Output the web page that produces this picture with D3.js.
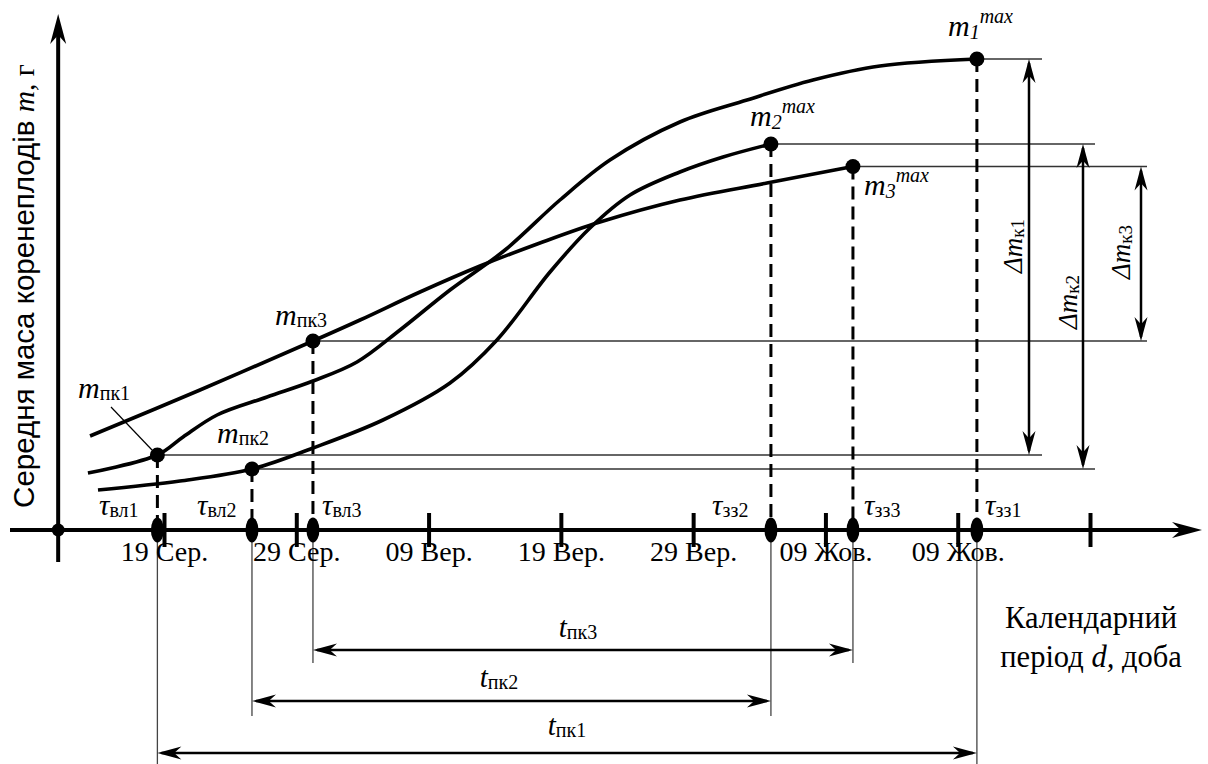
<!DOCTYPE html>
<html>
<head>
<meta charset="utf-8">
<script src="https://cdn.jsdelivr.net/npm/d3@7"></script>
<style>
  html, body { margin: 0; padding: 0; background: #fff; }
  svg { display: block; }
  text { font-family: "Liberation Serif", "Times New Roman", serif; fill: #000; }
</style>
</head>
<body>
<svg id="chart" width="1208" height="764"></svg>
<script>
// Calendar days are counted from 19 Сер.; root mass is in relative units.
const tickDays = [0, 10, 20, 30, 40, 50, 60, 70];
const tickLabels = ["19 Сер.", "29 Сер.", "09 Вер.", "19 Вер.", "29 Вер.", "09 Жов.", "09 Жов.", ""];

// Start of the harvesting period (τвл) and mass at that moment, m_пк
const startDays = [-0.5, 6.65, 11.26];
const startMass = [15.0, 12.2, 37.8];
// End of growth (τзз) and maximal mass, m_max
const endDays = [61.45, 45.88, 52.08];
const endMass = [94.2, 77.2, 72.7];

// Growth curves for the three sowing variants (key points added below)
const curve1Days = [-5.75, 1.44, 4.01, 7.79, 11.26, 14.59, 17.84, 21.62, 25.78, 29.93, 33.71, 39.0, 44.07, 49.06, 54.12];
const curve1Mass = [11.4, 18.6, 23.0, 26.6, 29.8, 33.6, 40.0, 48.0, 56.0, 66.0, 74.0, 81.6, 86.0, 90.0, 92.8];
const curve2Days = [-4.99, 1.21, 11.26, 16.55, 21.62, 25.17, 29.18, 32.20, 35.23, 39.0, 42.26];
const curve2Mass = [8.0, 9.8, 16.4, 22.0, 29.4, 38.0, 51.6, 60.4, 67.0, 71.6, 74.6];
const curve3Days = [-5.59, 2.72, 14.82, 19.35, 23.89, 28.42, 32.96, 39.0, 45.58];
const curve3Mass = [18.8, 28.0, 42.0, 47.6, 52.8, 57.4, 61.6, 66.0, 69.4];

const startLabels = ["вл1", "вл2", "вл3"];
const endLabels = ["зз1", "зз2", "зз3"];
const variantIds = ["1", "2", "3"];

const svg = d3.select("#chart");
const x = d3.scaleLinear().domain([0, 70]).range([164, 1090]);
const y = d3.scaleLinear().domain([0, 100]).range([530, 30]);
const X0 = x(-8), Y0 = y(0);

// Arrowhead with a notched back, tip at (px,py), pointing along angle (deg)
function arrowHead(g, px, py, angle, L = 24, W = 7) {
  g.append("path")
    .attr("d", `M0,0 L${-L},${-W} L${-L * 0.7},0 L${-L},${W} Z`)
    .attr("transform", `translate(${px},${py}) rotate(${angle})`)
    .attr("fill", "#000");
}

const curves = [
  [curve1Days, curve1Mass],
  [curve2Days, curve2Mass],
  [curve3Days, curve3Mass]
].map(([ds, ms], i) => {
  const pts = ds.map((d, k) => ({ d, m: ms[k] }));
  pts.push({ d: startDays[i], m: startMass[i] });
  pts.push({ d: endDays[i], m: endMass[i] });
  return pts.sort((a, b) => a.d - b.d);
});

const guide = svg.append("g");
const lineEnds = [1042, 1095, 1147];
const deltaX = [1029, 1083, 1141];

// Thin horizontal reference lines from m_пк and m_max
for (let i = 0; i < 3; i++) {
  [[startDays[i], startMass[i]], [endDays[i], endMass[i]]].forEach(([d, m]) => {
    guide.append("line")
      .attr("x1", x(d)).attr("x2", lineEnds[i])
      .attr("y1", y(m)).attr("y2", y(m))
      .attr("stroke", "#333").attr("stroke-width", 1.5);
  });
}

// Dashed drops to the calendar axis and thin extension lines below it
const extBottom = [764, 716, 663];
for (let i = 0; i < 3; i++) {
  [[startDays[i], startMass[i]], [endDays[i], endMass[i]]].forEach(([d, m]) => {
    guide.append("line")
      .attr("x1", x(d)).attr("x2", x(d))
      .attr("y1", y(m)).attr("y2", Y0)
      .attr("stroke", "#000").attr("stroke-width", 3)
      .attr("stroke-dasharray", "13,7");
    guide.append("line")
      .attr("x1", x(d)).attr("x2", x(d))
      .attr("y1", Y0).attr("y2", extBottom[i])
      .attr("stroke", "#444").attr("stroke-width", 1.3);
  });
}

// Growth curves
const line = d3.line().x(p => x(p.d)).y(p => y(p.m)).curve(d3.curveCatmullRom.alpha(0.5));
svg.append("g").selectAll("path").data(curves).join("path")
  .attr("d", line)
  .attr("fill", "none").attr("stroke", "#000").attr("stroke-width", 3.6);

// Calendar axis
const axisG = svg.append("g").attr("transform", `translate(0,${Y0})`);
axisG.call(d3.axisBottom(x).tickValues(tickDays).tickFormat((d, i) => tickLabels[i]));
axisG.select(".domain").remove();
axisG.selectAll(".tick line").attr("y1", -17).attr("y2", 17).attr("stroke", "#000").attr("stroke-width", 4);
axisG.selectAll(".tick text")
  .attr("y", 31).attr("dy", 0)
  .attr("font-family", "Liberation Serif, serif").attr("font-size", 28).attr("fill", "#000");

const axes = svg.append("g");
axes.append("line").attr("x1", 10).attr("x2", 1190).attr("y1", Y0).attr("y2", Y0)
  .attr("stroke", "#000").attr("stroke-width", 4);
arrowHead(axes, 1202, Y0, 0, 30, 8);
axes.append("line").attr("x1", X0).attr("x2", X0).attr("y1", 562).attr("y2", 26)
  .attr("stroke", "#000").attr("stroke-width", 4);
arrowHead(axes, X0, 14, -90, 30, 8);
axes.append("circle").attr("cx", X0).attr("cy", Y0).attr("r", 6.5).attr("fill", "#000");

// Markers on the axis and on the curves
for (let i = 0; i < 3; i++) {
  [startDays[i], endDays[i]].forEach(d => {
    axes.append("ellipse").attr("cx", x(d)).attr("cy", Y0).attr("rx", 6.5).attr("ry", 12.5).attr("fill", "#000");
  });
  axes.append("circle").attr("cx", x(startDays[i])).attr("cy", y(startMass[i])).attr("r", 7.5).attr("fill", "#000");
  axes.append("circle").attr("cx", x(endDays[i])).attr("cy", y(endMass[i])).attr("r", 7.5).attr("fill", "#000");
}

// Δm_к dimension arrows
for (let i = 0; i < 3; i++) {
  const yt = y(endMass[i]), yb = y(startMass[i]);
  axes.append("line").attr("x1", deltaX[i]).attr("x2", deltaX[i]).attr("y1", yt + 4).attr("y2", yb - 4)
    .attr("stroke", "#000").attr("stroke-width", 2.5);
  arrowHead(axes, deltaX[i], yt, -90, 24, 6.5);
  arrowHead(axes, deltaX[i], yb, 90, 24, 6.5);
}

// t_пк period arrows
const tY = [753, 701, 650];
for (let i = 0; i < 3; i++) {
  const xa = x(startDays[i]), xb = x(endDays[i]);
  axes.append("line").attr("x1", xa + 4).attr("x2", xb - 4).attr("y1", tY[i]).attr("y2", tY[i])
    .attr("stroke", "#000").attr("stroke-width", 2.5);
  arrowHead(axes, xa, tY[i], 180, 24, 6.5);
  arrowHead(axes, xb, tY[i], 0, 24, 6.5);
}

const labels = svg.append("g");

// Label made of a main italic symbol, a subscript and an optional superscript
function symLabel(px, py, main, sub, sup, opts = {}) {
  const t = labels.append("text").attr("x", px).attr("y", py)
    .attr("text-anchor", opts.anchor || "start");
  if (opts.rotate) t.attr("transform", `rotate(${opts.rotate},${px},${py})`);
  t.append("tspan").attr("font-style", "italic").attr("font-size", opts.size || 30).text(main);
  if (sub) t.append("tspan").attr("font-size", opts.subSize || 20)
    .attr("font-style", opts.subItalic ? "italic" : "normal")
    .attr("dy", opts.subDy != null ? opts.subDy : 3).text(sub);
  if (sup) t.append("tspan").attr("font-size", 20).attr("font-style", "italic")
    .attr("dy", opts.supDy).text(sup);
  return t;
}

// m_пк labels
const mpkPos = [[78, 398], [217, 443], [275, 325]];
mpkPos.forEach(([px, py], i) => symLabel(px, py, "m", "пк" + variantIds[i], null, { subDy: 2 }));
labels.append("line").attr("x1", 111).attr("y1", 407).attr("x2", 152).attr("y2", 450)
  .attr("stroke", "#000").attr("stroke-width", 1.2);

// m_max labels
const mmaxPos = [[948, 36], [750, 126], [864, 195]];
mmaxPos.forEach(([px, py], i) => symLabel(px, py, "m", variantIds[i], "max", { subDy: 3, subItalic: true, supDy: -16 }));

// τ labels on the axis
const tauStartX = [99, 197, 322];
const tauEndX = [985, 712, 864];
for (let i = 0; i < 3; i++) {
  symLabel(tauStartX[i], 515, "τ", startLabels[i], null, { size: 29, subSize: 20, subDy: 2 });
  symLabel(tauEndX[i], 515, "τ", endLabels[i], null, { size: 29, subSize: 20, subDy: 2 });
}

// Δm_к labels (vertical)
const dLabelPos = [[1022, 246], [1077, 302], [1130, 252]];
dLabelPos.forEach(([px, py], i) =>
  symLabel(px, py, "Δm", "к" + variantIds[i], null, { anchor: "middle", rotate: -90, size: 27, subSize: 19, subDy: 2 }));

// t_пк labels
const tLabelX = [567, 499, 578];
const tLabelY = [735, 687, 637];
for (let i = 0; i < 3; i++) {
  symLabel(tLabelX[i], tLabelY[i], "t", "пк" + variantIds[i], null, { anchor: "middle", size: 29, subSize: 20, subDy: 2 });
}

// Axis titles
const xt = labels.append("text").attr("text-anchor", "middle").attr("font-size", 30.5);
xt.append("tspan").attr("x", 1091).attr("y", 628).text("Календарний");
const xt2 = xt.append("tspan").attr("x", 1091).attr("y", 667);
xt2.append("tspan").text("період ");
xt2.append("tspan").attr("font-style", "italic").text("d,");
xt2.append("tspan").text(" доба");

const yt = labels.append("text").attr("text-anchor", "middle")
  .attr("transform", "translate(34,286) rotate(-90)").attr("font-size", 29.5);
yt.append("tspan").attr("font-family", "Liberation Sans, Arial, sans-serif").text("Середня маса коренеплодів ");
yt.append("tspan").attr("font-style", "italic").text("m");
yt.append("tspan").text(", г");
</script>
</body>
</html>
